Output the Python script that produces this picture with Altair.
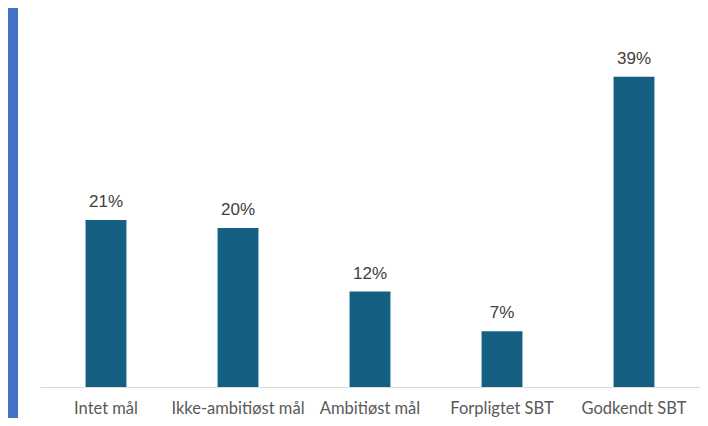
import altair as alt
import pandas as pd

categories = ["Intet mål", "Ikke-ambitiøst mål", "Ambitiøst mål", "Forpligtet SBT", "Godkendt SBT"]
values = [21, 20, 12, 7, 39]
labels = ["21%", "20%", "12%", "7%", "39%"]

df = pd.DataFrame({"cat": categories, "val": values, "lab": labels})

x = alt.X("cat:N", sort=categories, title=None,
          scale=alt.Scale(paddingInner=0.69, paddingOuter=0.345),
          axis=alt.Axis(labelAngle=0, domainColor="#D9D9D9", domainWidth=1,
                        ticks=False, labelFontSize=16.5, labelColor="#595959",
                        labelFont="Lato", labelPadding=13, grid=False))
y = alt.Y("val:Q", title=None, scale=alt.Scale(domain=[0, 45]), axis=None)

bars = alt.Chart(df).mark_bar(color="#156082").encode(x=x, y=y)
text = alt.Chart(df).mark_text(dy=-13, baseline="alphabetic", fontSize=17,
                               font="Liberation Sans", color="#404040").encode(
    x=alt.X("cat:N", sort=categories), y="val:Q", text="lab:N")
strip = alt.Chart(df).mark_rect(color="#4472C4").encode(
    x=alt.value(-32), x2=alt.value(-22), y=alt.value(-21), y2=alt.value(389))

chart = alt.layer(strip, bars, text).properties(
    width=660, height=358,
    autosize=alt.AutoSizeParams(type="none"),
    padding={"left": 32, "top": 21, "right": 0, "bottom": 31},
).configure_view(stroke=None)

chart.save("out.html", embed_options={"renderer": "svg", "actions": False})
